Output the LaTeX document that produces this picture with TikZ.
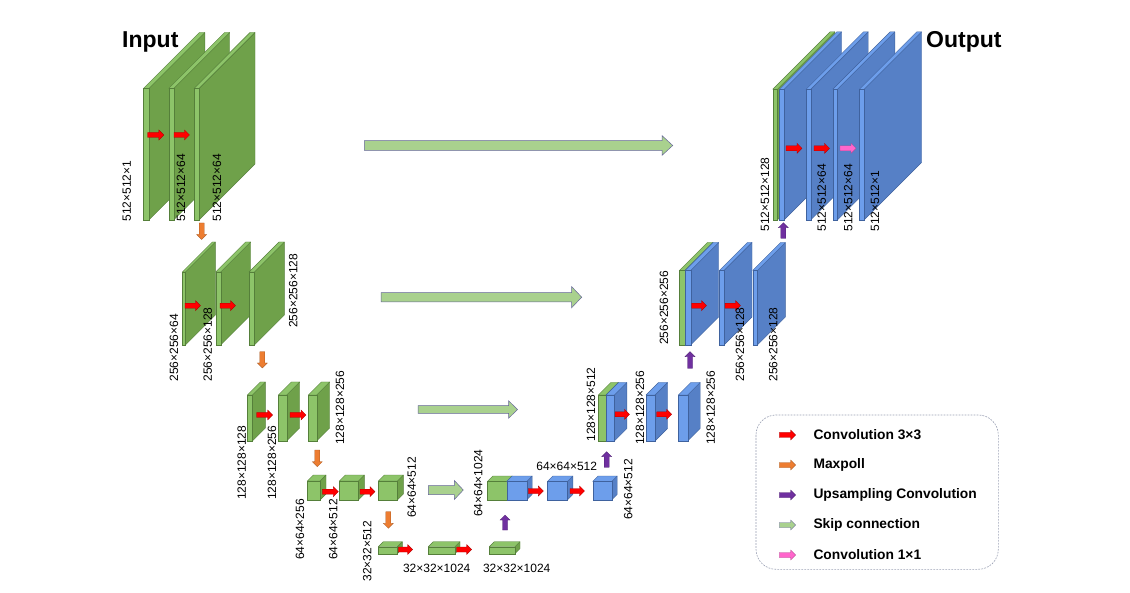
\documentclass[tikz,border=0pt]{standalone}
\usepackage{fontspec}
\setmainfont{Liberation Sans}
\definecolor{frontg}{HTML}{8DC469}
\definecolor{sideg}{HTML}{6FA14A}
\definecolor{topg}{HTML}{8DC469}
\definecolor{edgeg}{HTML}{557F3A}
\definecolor{frontb}{HTML}{6D9EEB}
\definecolor{sideb}{HTML}{5680C6}
\definecolor{topb}{HTML}{6D9EEB}
\definecolor{edgeb}{HTML}{3F629E}
\definecolor{cred}{HTML}{FF0000}
\definecolor{corange}{HTML}{ED7D31}
\definecolor{cpurple}{HTML}{7030A0}
\definecolor{cskip}{HTML}{A9D18E}
\definecolor{cpink}{HTML}{FF66CC}
\definecolor{legline}{HTML}{9AA0B4}
\newcommand{\slabbox}[6]{%
 \filldraw[fill=side#6, draw=edge#6, line width=0.4pt, line join=round] ({#1+#3},#2) -- ({#1+#3+#5},{#2-#5}) -- ({#1+#3+#5},{#2+#4-#5}) -- ({#1+#3},{#2+#4}) -- cycle;
 \filldraw[fill=top#6, draw=edge#6, line width=0.4pt, line join=round] (#1,#2) -- ({#1+#5},{#2-#5}) -- ({#1+#3+#5},{#2-#5}) -- ({#1+#3},#2) -- cycle;
 \filldraw[fill=front#6, draw=edge#6, line width=0.4pt] (#1,#2) rectangle ({#1+#3},{#2+#4});
}
\newcommand{\harrow}[7]{%
 \filldraw[#7] (#1,{#3-#4}) -- ({#2-#6},{#3-#4}) -- ({#2-#6},{#3-#5}) -- (#2,#3) -- ({#2-#6},{#3+#5}) -- ({#2-#6},{#3+#4}) -- (#1,{#3+#4}) -- cycle;
}
\newcommand{\varrow}[7]{%
 \filldraw[#7] ({#1-#4},#2) -- ({#1-#4},{#3-(#6)}) -- ({#1-#5},{#3-(#6)}) -- (#1,#3) -- ({#1+#5},{#3-(#6)}) -- ({#1+#4},{#3-(#6)}) -- ({#1+#4},#2) -- cycle;
}
\tikzset{
 lbl/.style={rotate=90, anchor=west, inner sep=0pt, font=\fontsize{12}{12}\selectfont},
 hlbl/.style={inner sep=0pt, font=\fontsize{12}{12}\selectfont},
 title/.style={inner sep=0pt, anchor=west, font=\fontsize{23}{23}\selectfont\bfseries},
 legtxt/.style={inner sep=0pt, anchor=west, font=\fontsize{13.8}{14}\selectfont\bfseries},
 redarr/.style={fill=cred, draw=cred!65!black, line width=0.3pt},
 orarr/.style={fill=corange, draw=corange!70!black, line width=0.3pt},
 puarr/.style={fill=cpurple, draw=cpurple!70!black, line width=0.3pt},
 pkarr/.style={fill=cpink, draw=cpink!70!black, line width=0.3pt},
 skarr/.style={fill=cskip, draw=gray!80!blue, line width=0.5pt},
}
\begin{document}
\begin{tikzpicture}[x=1pt,y=-1pt]
\useasboundingbox[fill=white] (0,0) rectangle (1130,593);
% ---------- encoder level 1
\slabbox{143.3}{88.5}{5.5}{131.5}{56}{g}
\slabbox{168.7}{88.5}{5}{131.5}{56}{g}
\slabbox{194}{88.5}{5}{131.5}{56}{g}
\harrow{147.7}{163.8}{135}{2.5}{5}{5}{redarr}
\harrow{174}{189.5}{135}{2.5}{5}{5}{redarr}
\node[lbl] (e11) at (126.7,221.7) {512×512×1};
\node[lbl] (e12) at (181,221.7) {512×512×64};
\node[lbl] (e13) at (217,221.7) {512×512×64};
\node[title] (inp) at (122,41.7) {Input};
\varrow{201.7}{223}{239.5}{2.5}{5}{5}{orarr}
% ---------- encoder level 2
\slabbox{182.3}{272}{3}{73}{30}{g}
\slabbox{215.7}{272}{5}{73}{30}{g}
\slabbox{249}{272}{5.3}{73}{30}{g}
\harrow{185}{200.5}{305.7}{2.5}{5}{5}{redarr}
\harrow{220}{235.5}{305.7}{2.5}{5}{5}{redarr}
\node[lbl] (e21) at (174,381.7) {256×256×64};
\node[lbl] (e22) at (207.7,381.7) {256×256×128};
\node[lbl] (e23) at (293.3,328) {256×256×128};
\varrow{262.3}{351.7}{368}{2.5}{5}{5}{orarr}
% ---------- encoder level 3
\slabbox{247.3}{395}{5}{46}{13}{g}
\slabbox{278.3}{395}{8.4}{46}{13}{g}
\slabbox{308.3}{395}{8.4}{46}{13}{g}
\harrow{256.7}{272.7}{415}{2.5}{5}{5}{redarr}
\harrow{290}{306}{415}{2.5}{5}{5}{redarr}
\node[lbl] (e31) at (241.7,500) {128×128×128};
\node[lbl] (e32) at (272,500) {128×128×256};
\node[lbl] (e33) at (340,445) {128×128×256};
\varrow{317.3}{450}{466.7}{2.5}{5}{5}{orarr}
% ---------- encoder level 4
\slabbox{307.3}{481}{12.7}{19}{6}{g}
\slabbox{339.3}{481}{19}{19}{6}{g}
\slabbox{378.3}{481}{19}{19}{6}{g}
\harrow{322.3}{338.3}{491.7}{2.5}{5}{5}{redarr}
\harrow{360}{375}{491.7}{2.5}{5}{5}{redarr}
\node[lbl] (e41) at (300,560) {64×64×256};
\node[lbl] (e42) at (333.3,560) {64×64×512};
\node[lbl] (e43) at (411.7,518) {64×64×512};
\varrow{388.3}{511.7}{528.3}{2.5}{5}{5}{orarr}
% ---------- bottleneck
\slabbox{378.3}{546.7}{19}{7}{5}{g}
\slabbox{428.3}{546.7}{26.7}{7}{5}{g}
\slabbox{489.3}{546.7}{25.7}{7}{5}{g}
\harrow{398.3}{412.7}{549.5}{2.5}{5}{5}{redarr}
\harrow{456.7}{471.7}{549.5}{2.5}{5}{5}{redarr}
\node[lbl] (b1) at (367.3,581.7) {32×32×512};
\node[hlbl] (b2) at (436.7,568.3) {32×32×1024};
\node[hlbl] (b3) at (516.7,568.3) {32×32×1024};
\varrow{505}{530}{515}{2.5}{5}{-5}{puarr}
% ---------- decoder level 4
\slabbox{487.3}{481.5}{19.4}{18.5}{5.5}{g}
\slabbox{506.7}{481.5}{20}{18.5}{5.5}{b}
\slabbox{547.3}{481.5}{20}{18.5}{5.5}{b}
\slabbox{592.7}{481.5}{19}{18.5}{5.5}{b}
\harrow{528.3}{543.3}{491}{2.5}{5}{5}{redarr}
\harrow{570}{584.5}{491}{2.5}{5}{5}{redarr}
\node[lbl] (d41) at (478.3,517) {64×64×1024};
\node[hlbl] (d42) at (566.7,466) {64×64×512};
\node[lbl] (d43) at (628.3,520) {64×64×512};
\varrow{606.7}{467.3}{451.7}{2.5}{5}{-5}{puarr}
% ---------- decoder level 3
\slabbox{598.3}{395}{7.7}{46}{12.5}{g}
\slabbox{606}{395}{8.3}{46}{12.5}{b}
\slabbox{646}{395}{9}{46}{12.5}{b}
\slabbox{678.3}{395}{9.4}{46}{12.5}{b}
\harrow{615}{629.5}{414.3}{2.5}{5}{5}{redarr}
\harrow{656.7}{671.7}{414.3}{2.5}{5}{5}{redarr}
\node[lbl] (d31) at (591,441.7) {128×128×512};
\node[lbl] (d32) at (640,445) {128×128×256};
\node[lbl] (d33) at (710.7,445) {128×128×256};
\varrow{690}{368.3}{351.7}{2.5}{5}{-5}{puarr}
% ---------- decoder level 2
\slabbox{679.3}{270.5}{5.7}{74.5}{28}{g}
\slabbox{685}{270.5}{5.7}{74.5}{28}{b}
\slabbox{719.3}{270.5}{4.7}{74.5}{28}{b}
\slabbox{752.7}{270.5}{4.6}{74.5}{28}{b}
\harrow{691.7}{706.5}{305.7}{2.5}{5}{5}{redarr}
\harrow{725}{740.5}{305.7}{2.5}{5}{5}{redarr}
\node[lbl] (d21) at (664,345) {256×256×256};
\node[lbl] (d22) at (740,381.7) {256×256×128};
\node[lbl] (d23) at (773.3,381.7) {256×256×128};
\varrow{783.3}{238.3}{222.7}{2.5}{5}{-5}{puarr}
% ---------- decoder level 1
\slabbox{772.7}{89.3}{4.6}{130.7}{57.5}{g}
\slabbox{779.3}{89.3}{4.7}{130.7}{57.5}{b}
\slabbox{806}{89.3}{4.7}{130.7}{57.5}{b}
\slabbox{832.7}{89.3}{4.6}{130.7}{57.5}{b}
\slabbox{859.3}{89.3}{4.7}{130.7}{57.5}{b}
\harrow{786}{802}{148.3}{2.5}{5}{5}{redarr}
\harrow{814}{829.5}{148.3}{2.5}{5}{5}{redarr}
\harrow{840}{856}{148.3}{2.5}{5}{5}{pkarr}
\node[lbl] (d11) at (765,231.7) {512×512×128};
\node[lbl] (d12) at (821.7,231.7) {512×512×64};
\node[lbl] (d13) at (848.3,231.7) {512×512×64};
\node[lbl] (d14) at (875,231.7) {512×512×1};
\node[title] (outp) at (926,41.7) {Output};
% ---------- skip connections
\harrow{364.3}{672.7}{145.5}{4.8}{9.7}{10.5}{skarr}
\harrow{381}{581.7}{297.2}{4.6}{10.5}{10}{skarr}
\harrow{418}{517.5}{409.5}{3.9}{8.8}{9}{skarr}
\harrow{428.3}{463.3}{490}{4.5}{9.5}{9}{skarr}
% ---------- legend
\draw[legline, line width=0.6pt, dash pattern=on 1.8pt off 1.2pt, rounded corners=20pt] (756,415) rectangle (998.3,569.3);
\harrow{779.3}{795.7}{435}{2.5}{5}{5}{redarr}
\harrow{779.3}{795.7}{465}{2.5}{5}{5}{orarr}
\harrow{779.3}{795.7}{495}{2.5}{5}{5}{puarr}
\harrow{779.3}{795.7}{525}{2.5}{5}{5}{fill=cskip, draw=gray!80!blue, line width=0.3pt}
\harrow{779.3}{795.7}{555}{2.5}{5}{5}{pkarr}
\node[legtxt] (lg1) at (813.3,435) {Convolution 3×3};
\node[legtxt] (lg2) at (813.3,465) {Maxpoll};
\node[legtxt] (lg3) at (813.3,495) {Upsampling Convolution};
\node[legtxt] (lg4) at (813.3,525) {Skip connection};
\node[legtxt] (lg5) at (813.3,555) {Convolution 1×1};
\end{tikzpicture}
\end{document}
